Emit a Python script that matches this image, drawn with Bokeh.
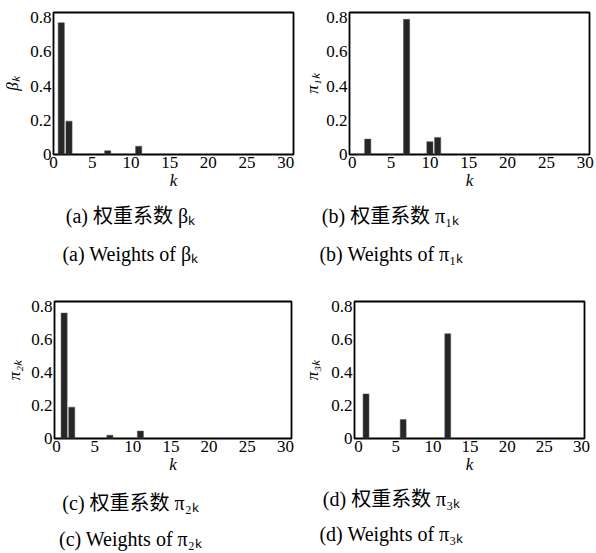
from bokeh.plotting import figure
from bokeh.layouts import column, row
from bokeh.models import FixedTicker, Range1d
from bokeh.core.properties import value
from bokeh.embed import file_html
from bokeh.resources import INLINE

# ---- data ----
k_beta = [1, 2, 7, 11]
beta_vals = [0.77, 0.195, 0.022, 0.048]

k_pi1 = [1, 2, 5, 7, 10, 11]
pi1_vals = [0.003, 0.09, 0.002, 0.79, 0.075, 0.10]

k_pi2 = [1, 2, 7, 11]
pi2_vals = [0.76, 0.19, 0.02, 0.045]

k_pi3 = [1, 6, 12]
pi3_vals = [0.27, 0.115, 0.635]

x_ticks = [0, 5, 10, 15, 20, 25, 30]
y_ticks = [0, 0.2, 0.4, 0.6, 0.8]
y_tick_labels = ["0", "0.2", "0.4", "0.6", "0.8"]

ylabels = ["βₖ", "π₁ₖ", "π₂ₖ", "π₃ₖ"]
captions_cn = ["(a) 权重系数 βₖ", "(b) 权重系数 π₁ₖ", "(c) 权重系数 π₂ₖ", "(d) 权重系数 π₃ₖ"]
captions_en = ["(a) Weights of βₖ", "(b) Weights of π₁ₖ", "(c) Weights of π₂ₖ", "(d) Weights of π₃ₖ"]

SERIF = "'Liberation Serif', 'Times New Roman', serif"
CAPFONT = "'Liberation Serif', 'Noto Sans CJK SC', serif"
BAR = "#262626"


def panel(ks, vals, xr, ylabel, w, h, bl, br, bt, bb, ystand):
    p = figure(width=w, height=h, x_range=Range1d(*xr), y_range=Range1d(0, 0.83),
               output_backend="svg", toolbar_location=None,
               min_border_left=bl, min_border_right=br,
               min_border_top=bt, min_border_bottom=bb)
    p.vbar(x=ks, top=vals, width=0.8, fill_color=BAR, line_color="#555555", line_width=0.5)
    p.xgrid.visible = False
    p.ygrid.visible = False
    p.outline_line_color = "black"
    p.outline_line_width = 1.8
    p.outline_line_alpha = 1.0
    for ax in (p.xaxis[0], p.yaxis[0]):
        ax.axis_line_color = None
        ax.major_tick_line_color = None
        ax.minor_tick_line_color = None
        ax.major_tick_out = 0
        ax.major_tick_in = 0
        ax.minor_tick_out = 0
        ax.major_label_text_font = SERIF
        ax.major_label_text_font_size = "17px"
        ax.major_label_text_color = "black"
        ax.major_label_standoff = 2
        ax.axis_label_text_font = SERIF
        ax.axis_label_text_font_size = "17px"
        ax.axis_label_text_font_style = "italic"
        ax.axis_label_text_color = "black"
        ax.axis_label_standoff = 0
    p.yaxis[0].axis_label_standoff = ystand
    p.xaxis[0].ticker = FixedTicker(ticks=x_ticks)
    p.yaxis[0].ticker = FixedTicker(ticks=y_ticks)
    p.yaxis[0].major_label_overrides = {t: s for t, s in zip(y_ticks, y_tick_labels)}
    p.xaxis[0].major_label_overrides = {t: str(t) for t in x_ticks}
    p.xaxis[0].axis_label = "k"
    p.yaxis[0].axis_label = ylabel
    return p


def caption_strip(h, xs, ys, texts):
    c = figure(width=596, height=h, x_range=Range1d(0, 596), y_range=Range1d(h, 0),
               output_backend="svg", toolbar_location=None, min_border=0)
    c.axis.visible = False
    c.grid.visible = False
    c.outline_line_color = None
    c.text(x=xs, y=ys, text=texts, text_align="center", text_baseline="middle",
           text_font=value(CAPFONT), text_font_size="20px", text_color="black")
    return c


pa = panel(k_beta, beta_vals, (0, 31), ylabels[0], 300, 192, 52, 7, 12, 38, 5)
pb = panel(k_pi1, pi1_vals, (-0.35, 30.55), ylabels[1], 296, 192, 48, 7, 9, 38, 1)
pc = panel(k_pi2, pi2_vals, (-0.26, 30.8), ylabels[2], 300, 198, 54, 9, 15, 39, 4)
pd = panel(k_pi3, pi3_vals, (-0.55, 30.4), ylabels[3], 296, 198, 54, 12, 21, 40, 6)

cap1 = caption_strip(88, [130, 130, 390, 391], [23, 61, 23, 61],
                     [captions_cn[0], captions_en[0], captions_cn[1], captions_en[1]])
cap2 = caption_strip(75, [130, 130, 391, 391], [24, 60, 20, 55],
                     [captions_cn[2], captions_en[2], captions_cn[3], captions_en[3]])

layout = column(row(pa, pb, spacing=0), cap1, row(pc, pd, spacing=0), cap2, spacing=0)

open("out.html", "w").write(file_html(layout, INLINE))
